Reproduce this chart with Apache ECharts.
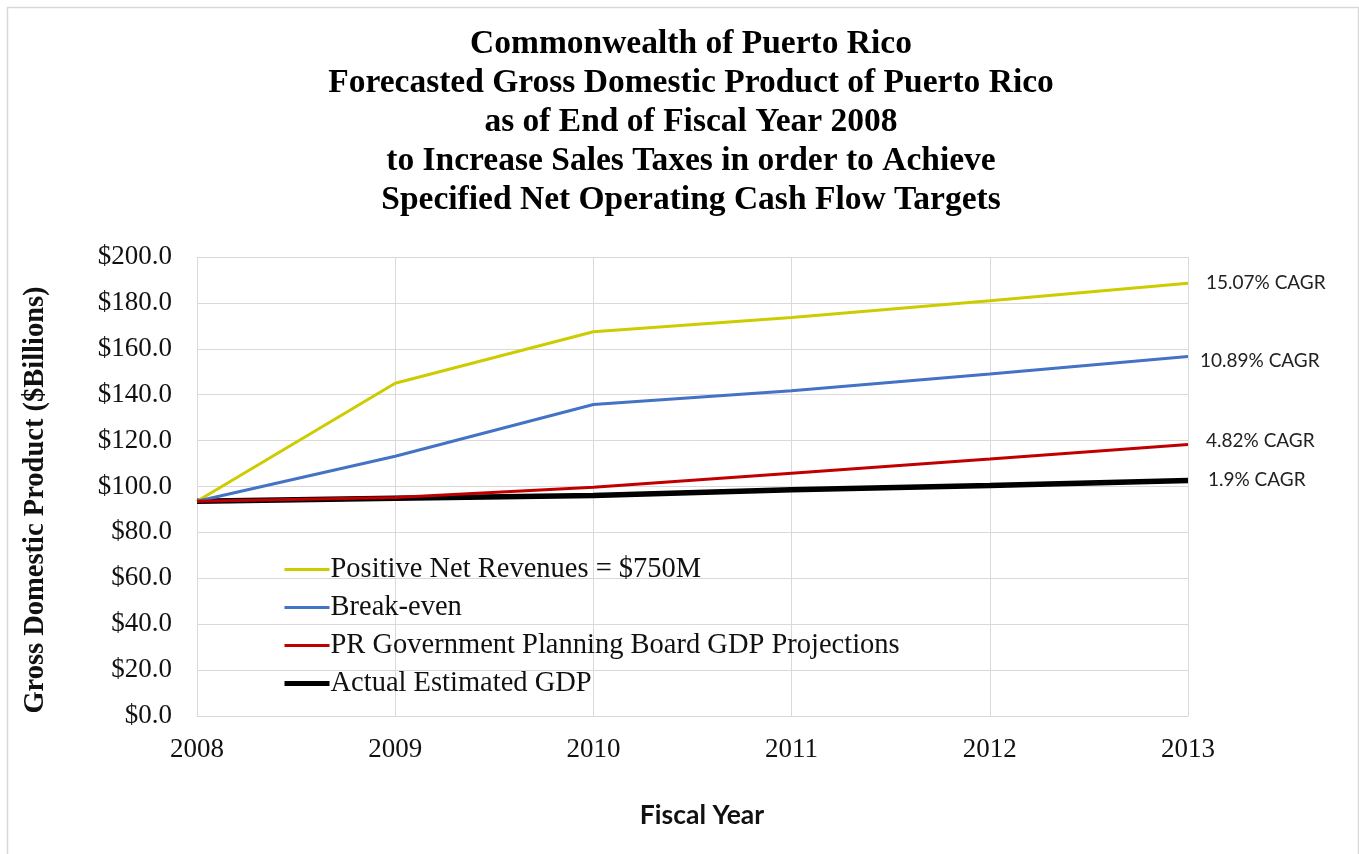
<!DOCTYPE html>
<html>
<head>
<meta charset="utf-8">
<script src="https://cdn.jsdelivr.net/npm/echarts@6/dist/echarts.min.js"></script>
<style>
html,body{margin:0;padding:0;background:#fff;}
#chart{width:1359px;height:854px;}
</style>
</head>
<body>
<div id="chart"></div>
<script>
const years = ['2008','2009','2010','2011','2012','2013'];
const positiveNet = [93.6, 145.0, 167.4, 173.6, 180.9, 188.6];
const breakEven = [93.6, 113.2, 135.7, 141.7, 149.0, 156.6];
const planningBoard = [93.6, 95.2, 99.7, 105.8, 112.0, 118.3];
const actualGDP = [93.6, 94.9, 96.1, 98.6, 100.4, 102.6];
const seriesNames = ['Positive Net Revenues = $750M','Break-even','PR Government Planning Board GDP Projections','Actual Estimated GDP'];
const cagrLabels = ['15.07% CAGR','10.89% CAGR','4.82% CAGR','1.9% CAGR'];
const yTicks = [0,20,40,60,80,100,120,140,160,180,200];

const serif = '"Liberation Serif", "Times New Roman", serif';
const sans = 'Lato, "Open Sans", sans-serif';
const colors = ['#CCCC00', '#4472C4', '#C00000', '#000000'];
const widths = [3, 3, 3, 5.5];

const chart = echarts.init(document.getElementById('chart'));

function lineSeries(i, data, offY, offX) {
  return {
    name: seriesNames[i],
    type: 'line',
    data: data,
    symbol: 'none',
    smooth: false,
    lineStyle: {color: colors[i], width: widths[i]},
    itemStyle: {color: colors[i]},
    z: widths[i] > 3 ? 1 : 3,
    endLabel: {
      show: true,
      formatter: function(){ return cagrLabels[i]; },
      fontFamily: sans,
      fontSize: 19,
      color: '#222',
      distance: 18,
      offset: [offX, offY]
    }
  };
}

chart.setOption({
  animation: false,
  backgroundColor: '#fff',
  title: {
    text: 'Commonwealth of Puerto Rico\nForecasted Gross Domestic Product of Puerto Rico\nas of End of Fiscal Year 2008\nto Increase Sales Taxes in order to Achieve\nSpecified Net Operating Cash Flow Targets',
    left: 686,
    top: 20,
    textAlign: 'center',
    textStyle: {fontFamily: serif, fontWeight: 'bold', fontSize: 33.5, lineHeight: 39, color: '#000'}
  },
  grid: {left: 197, right: 171, top: 257, bottom: 138, containLabel: false},
  legend: {
    orient: 'vertical',
    left: 277,
    top: 550,
    itemWidth: 45,
    itemHeight: 14,
    itemGap: 9,
    itemStyle: {opacity: 0},
    textStyle: {fontFamily: serif, fontSize: 28.5, lineHeight: 27.5, color: '#111', padding: [0,0,0,-4]},
    data: seriesNames.map(function(n, i){ return {name: n, lineStyle: {width: widths[i] > 3 ? 5 : 3}}; })
  },
  xAxis: {
    type: 'category',
    data: years,
    boundaryGap: false,
    axisLine: {show: true, lineStyle: {color: '#D9D9D9', width: 1}},
    axisTick: {show: false},
    splitLine: {show: true, lineStyle: {color: '#D9D9D9', width: 1}},
    axisLabel: {fontFamily: serif, fontSize: 27, color: '#111', margin: 20}
  },
  yAxis: {
    type: 'value',
    min: 0,
    max: 200,
    interval: 20,
    axisLine: {show: false},
    axisTick: {show: false},
    splitLine: {show: true, lineStyle: {color: '#D9D9D9', width: 1}},
    axisLabel: {
      fontFamily: serif, fontSize: 27, color: '#111', margin: 25,
      formatter: function(v){ return yTicks.indexOf(v) >= 0 ? '$' + v.toFixed(1) : ''; }
    }
  },
  graphic: [
    {type: 'rect', left: 5, top: 5, shape: {width: 1351, height: 860}, style: {fill: 'none', stroke: '#D9D9D9', lineWidth: 1.5}, silent: true},
    {type: 'text', x: 36, y: 500, rotation: Math.PI/2,
     style: {text: 'Gross Domestic Product ($Billions)', fontFamily: serif, fontWeight: 'bold', fontSize: 28.5, fill: '#111', textAlign: 'center', textVerticalAlign: 'middle'}},
    {type: 'text', x: 702, y: 815,
     style: {text: 'Fiscal Year', fontFamily: sans, fontWeight: 'bold', fontSize: 26.5, fill: '#111', textAlign: 'center', textVerticalAlign: 'middle'}}
  ],
  series: [
    lineSeries(0, positiveNet, 0, 0),
    lineSeries(1, breakEven, 4, -6),
    lineSeries(2, planningBoard, -4, 0),
    lineSeries(3, actualGDP, -1, 2)
  ]
});
</script>
</body>
</html>
